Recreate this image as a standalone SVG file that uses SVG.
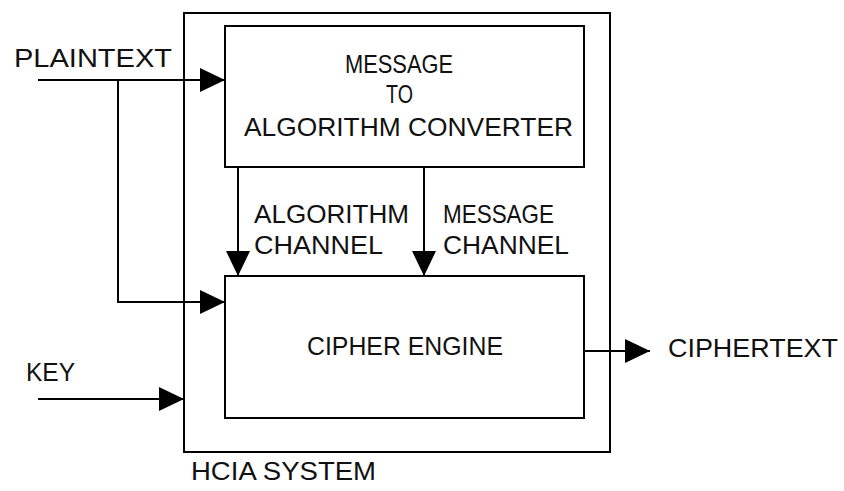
<svg xmlns="http://www.w3.org/2000/svg" width="844" height="491" viewBox="0 0 844 491">
<style>
.box{fill:none;stroke:#000;stroke-width:2}
.ln{fill:none;stroke:#000;stroke-width:2}
text{font-family:"Liberation Sans",Arial,sans-serif;font-size:26px;fill:#111}
.c{text-anchor:middle}
</style>
<defs>
<marker id="arr" markerUnits="userSpaceOnUse" markerWidth="26" markerHeight="26" refX="25" refY="12" orient="auto">
<path d="M0,0 L25,12 L0,24 Z" fill="#000"/>
</marker>
</defs>
<rect width="844" height="491" fill="#fff"/>
<g id="system">
<rect class="box" x="184" y="13" width="426" height="439"/>
<text x="191" y="480" textLength="185" lengthAdjust="spacingAndGlyphs">HCIA SYSTEM</text>
</g>
<g id="converter">
<rect class="box" x="225" y="26" width="359" height="141"/>
<text class="c" x="399" y="73" textLength="108" lengthAdjust="spacingAndGlyphs">MESSAGE</text>
<text class="c" x="399.5" y="103" textLength="27" lengthAdjust="spacingAndGlyphs">TO</text>
<text class="c" x="408.5" y="136" textLength="329" lengthAdjust="spacingAndGlyphs">ALGORITHM CONVERTER</text>
</g>
<g id="engine">
<rect class="box" x="225" y="276" width="359" height="142"/>
<text x="307" y="355" textLength="196" lengthAdjust="spacingAndGlyphs">CIPHER ENGINE</text>
</g>
<g id="labels">
<text x="14" y="67" textLength="158" lengthAdjust="spacingAndGlyphs">PLAINTEXT</text>
<text x="26" y="381" textLength="49" lengthAdjust="spacingAndGlyphs">KEY</text>
<text x="668" y="357" textLength="170" lengthAdjust="spacingAndGlyphs">CIPHERTEXT</text>
<text x="254" y="223" textLength="155" lengthAdjust="spacingAndGlyphs">ALGORITHM</text>
<text x="254" y="254" textLength="129" lengthAdjust="spacingAndGlyphs">CHANNEL</text>
<text x="443" y="223" textLength="111" lengthAdjust="spacingAndGlyphs">MESSAGE</text>
<text x="443" y="254" textLength="126" lengthAdjust="spacingAndGlyphs">CHANNEL</text>
</g>
<g id="connectors">
<path class="ln" d="M38,80 H225" marker-end="url(#arr)"/>
<path class="ln" d="M118,80 V302 H225" marker-end="url(#arr)"/>
<path class="ln" d="M38,399 H184" marker-end="url(#arr)"/>
<path class="ln" d="M238,167 V276" marker-end="url(#arr)"/>
<path class="ln" d="M424,167 V276" marker-end="url(#arr)"/>
<path class="ln" d="M584,351 H650" marker-end="url(#arr)"/>
</g>
</svg>
